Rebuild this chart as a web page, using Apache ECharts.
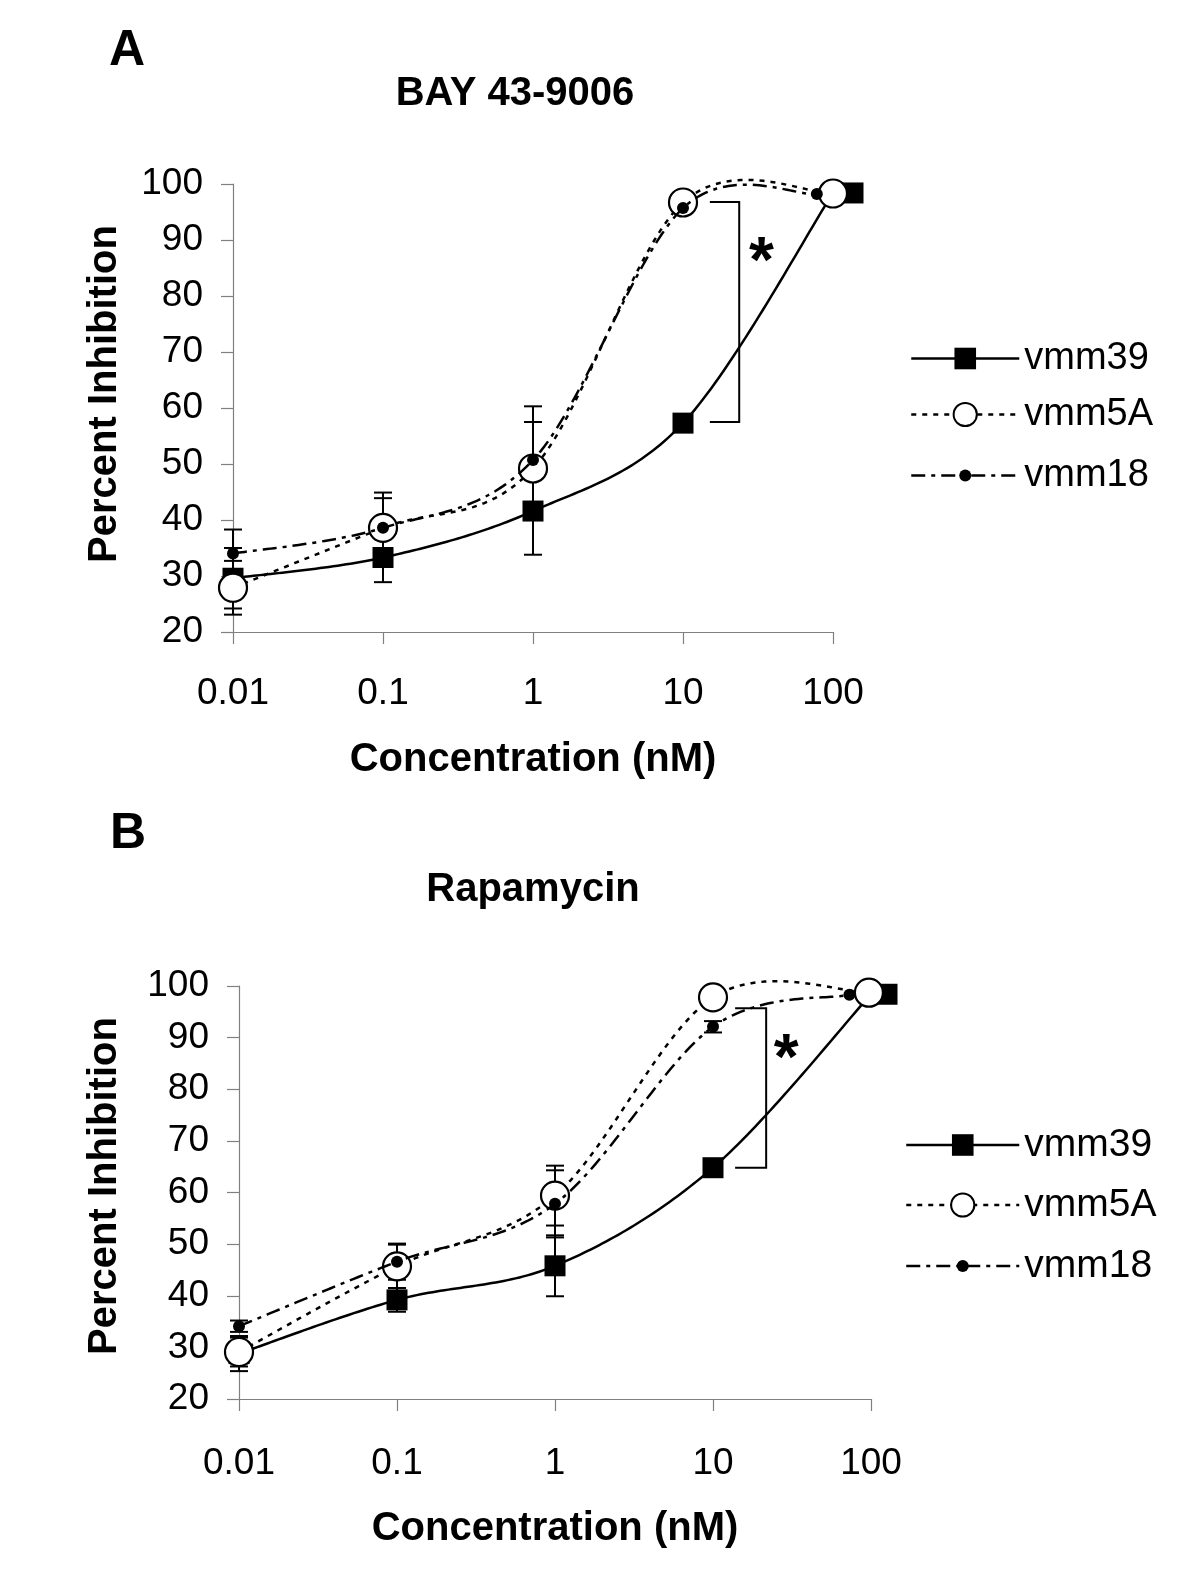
<!DOCTYPE html>
<html>
<head>
<meta charset="utf-8">
<script src="https://cdn.jsdelivr.net/npm/echarts@6/dist/echarts.min.js"></script>
<style>
html,body{margin:0;padding:0;background:#fff;}
#chart{width:1200px;height:1593px;}
</style>
</head>
<body>
<div id="chart"></div>
<script>
// ---------- DATA ----------
const seriesNames = ['vmm39', 'vmm5A', 'vmm18'];
const xTickLabels = ['0.01', '0.1', '1', '10', '100'];
const concentrations = [0.01, 0.1, 1, 10, 100];

// Panel A: BAY 43-9006
const titleA = 'BAY 43-9006';
const xA_vmm39 = [0.01, 0.1, 1, 10, 100];
const xA_vmm5A = [0.01, 0.1, 1, 10, 100];
const xA_vmm18 = [0.01, 0.1, 1, 10, 78];
const yA_vmm39 = [29.6, 33.3, 41.6, 57.3, 98.4];
const yA_vmm5A = [27.9, 38.6, 49.2, 96.7, 98.3];
const yA_vmm18 = [34.0, 38.6, 50.7, 95.7, 98.2];
const errA_vmm39 = [5.4, 4.4, 7.8, 0, 0];
const errA_vmm5A = [4.8, 6.3, 8.3, 0, 0];
const errA_vmm18 = [4.3, 5.3, 9.6, 0, 0];
// significance bracket: [xLeft, xRight, yTop, yBottom, xStar, yStar]
const bracketA = [15.1, 23.7, 96.8, 57.5, 33.4, 85.7];

// Panel B: Rapamycin
const titleB = 'Rapamycin';
const xB_vmm39 = [0.01, 0.1, 1, 10, 100];
const xB_vmm5A = [0.01, 0.1, 1, 10, 97];
const xB_vmm18 = [0.01, 0.1, 1, 10, 73];
const yB_vmm39 = [28.8, 39.2, 45.8, 64.8, 98.4];
const yB_vmm5A = [29.1, 45.7, 59.4, 97.8, 98.7];
const yB_vmm18 = [34.1, 46.6, 57.8, 92.1, 98.3];
const errB_vmm39 = [3.4, 2.3, 5.9, 0, 0];
const errB_vmm5A = [2.8, 4.2, 5.8, 0, 0];
const errB_vmm18 = [1.1, 3.5, 6.5, 1.1, 0];
const bracketB = [13.8, 21.7, 95.7, 64.8, 29.1, 85.4];

// ---------- STYLE / HELPERS ----------
const FONT = '"Liberation Sans", Arial, sans-serif';
const zip = (xs, ys) => xs.map((x, i) => [x, ys[i]]);
const errData = (xs, ys, es) => xs.map((x, i) => [x, ys[i] - es[i], ys[i] + es[i], es[i]]).filter(d => d[3] > 0);

const styles = {
  vmm39: { symbol: 'rect', symbolSize: 21, itemStyle: { color: '#000' },
           dash: null, legendType: 'solid', z: 3, legendH: 27 },
  vmm5A: { symbol: 'circle', symbolSize: 28, itemStyle: { color: '#fff', borderColor: '#000', borderWidth: 2.2 },
           dash: [5, 6], legendType: [5, 6], z: 4, legendH: 29 },
  vmm18: { symbol: 'circle', symbolSize: 12, itemStyle: { color: '#000' },
           dash: [14, 6, 4, 6], legendType: [14, 6, 4, 6], z: 5, legendH: 15 }
};
// pixel nudge of the last (100 nM) marker, as in the original figure
const lastMarkerNudge = { A: { vmm39: 20 }, B: { vmm39: 16 } };

function markerSeries(name, gridIdx, panel, xs, ys) {
  const s = styles[name];
  const nudge = lastMarkerNudge[panel][name] || 0;
  const data = zip(xs, ys).map((p, i) =>
    (i === xs.length - 1 && nudge) ? { value: p, symbolOffset: [nudge, 0] } : p);
  return {
    type: 'line', name: name, xAxisIndex: gridIdx, yAxisIndex: gridIdx,
    data: data, clip: false,
    symbol: s.symbol, symbolSize: s.symbolSize, showSymbol: true,
    itemStyle: s.itemStyle, lineStyle: { color: '#000', width: 0, opacity: 0, type: s.legendType },
    z: s.z, emphasis: { disabled: true }, animation: false
  };
}

// Smooth curve (cardinal / Catmull-Rom style, as in the spreadsheet original)
function curveSeries(name, gridIdx, xs, ys) {
  const s = styles[name];
  return {
    type: 'custom', xAxisIndex: gridIdx, yAxisIndex: gridIdx, z: s.z, clip: false,
    silent: true, animation: false, data: [[xs[0], ys[0]]],
    renderItem: function (params, api) {
      const P = xs.map((x, i) => api.coord([x, ys[i]]));
      const n = P.length, pts = [P[0]];
      for (let i = 0; i < n - 1; i++) {
        const p0 = P[Math.max(i - 1, 0)], p1 = P[i], p2 = P[i + 1], p3 = P[Math.min(i + 2, n - 1)];
        const c1 = [p1[0] + (p2[0] - p0[0]) / 6, p1[1] + (p2[1] - p0[1]) / 6];
        const c2 = [p2[0] - (p3[0] - p1[0]) / 6, p2[1] - (p3[1] - p1[1]) / 6];
        const N = 40;
        for (let k = 1; k <= N; k++) {
          const t = k / N, u = 1 - t;
          pts.push([
            u * u * u * p1[0] + 3 * u * u * t * c1[0] + 3 * u * t * t * c2[0] + t * t * t * p2[0],
            u * u * u * p1[1] + 3 * u * u * t * c1[1] + 3 * u * t * t * c2[1] + t * t * t * p2[1]
          ]);
        }
      }
      const style = { stroke: '#000', lineWidth: 2.5, fill: null };
      if (s.dash) style.lineDash = s.dash;
      return { type: 'polyline', shape: { points: pts }, style: style };
    }
  };
}

function errSeries(gridIdx, xs, ys, es) {
  return {
    type: 'custom', xAxisIndex: gridIdx, yAxisIndex: gridIdx, z: 2, clip: false,
    data: errData(xs, ys, es), animation: false, silent: true,
    renderItem: function (params, api) {
      const x = api.value(0);
      const p1 = api.coord([x, api.value(1)]);
      const p2 = api.coord([x, api.value(2)]);
      const w = 9, st = { stroke: '#000', lineWidth: 2 };
      return { type: 'group', children: [
        { type: 'line', shape: { x1: p1[0], y1: p1[1], x2: p2[0], y2: p2[1] }, style: st },
        { type: 'line', shape: { x1: p1[0] - w, y1: p1[1], x2: p1[0] + w, y2: p1[1] }, style: st },
        { type: 'line', shape: { x1: p2[0] - w, y1: p2[1], x2: p2[0] + w, y2: p2[1] }, style: st }
      ]};
    }
  };
}

function bracketSeries(gridIdx, b) {
  return {
    type: 'custom', xAxisIndex: gridIdx, yAxisIndex: gridIdx, z: 6, clip: false,
    data: [b], animation: false, silent: true,
    renderItem: function (params, api) {
      const a = api.coord([api.value(0), api.value(2)]);
      const c = api.coord([api.value(1), api.value(2)]);
      const d = api.coord([api.value(1), api.value(3)]);
      const e = api.coord([api.value(0), api.value(3)]);
      const s = api.coord([api.value(4), api.value(5)]);
      return { type: 'group', children: [
        { type: 'polyline', shape: { points: [a, c, d, e] }, style: { stroke: '#000', lineWidth: 2, fill: null } },
        { type: 'text', x: s[0], y: s[1], style: { text: '*', fill: '#000',
          font: 'bold 64px ' + FONT, align: 'center', verticalAlign: 'middle',
          textAlign: 'center', textVerticalAlign: 'middle' } }
      ]};
    }
  };
}

const axisGray = '#808080';
function xAxisCfg(gridIdx, margin, nameGap) {
  return {
    type: 'log', logBase: 10, min: 0.01, max: 100, gridIndex: gridIdx,
    name: 'Concentration (nM)', nameLocation: 'middle', nameGap: nameGap,
    nameTextStyle: { fontFamily: FONT, fontWeight: 'bold', fontSize: 40, color: '#000' },
    axisLine: { show: true, lineStyle: { color: axisGray, width: 1.2 } },
    axisTick: { show: true, inside: false, length: 12, lineStyle: { color: axisGray, width: 1.2 } },
    minorTick: { show: false }, splitLine: { show: false },
    axisLabel: { fontFamily: FONT, fontSize: 37, color: '#000', margin: margin,
      formatter: v => xTickLabels[Math.round(Math.log10(v)) + 2] }
  };
}
function yAxisCfg(gridIdx, nameGap, pad) {
  return {
    type: 'value', min: 20, max: 100, interval: 10, gridIndex: gridIdx,
    name: 'Percent Inhibition', nameLocation: 'middle', nameGap: nameGap, nameRotate: 90,
    nameTextStyle: { fontFamily: FONT, fontWeight: 'bold', fontSize: 40, color: '#000', padding: pad },
    axisLine: { show: true, lineStyle: { color: axisGray, width: 1.2 } },
    axisTick: { show: true, inside: false, length: 12, lineStyle: { color: axisGray, width: 1.2 } },
    splitLine: { show: false },
    axisLabel: { fontFamily: FONT, fontSize: 37, color: '#000', margin: 30 }
  };
}

function legendRow(name, left, centerY, width, fontSize) {
  const s = styles[name];
  const h = s.legendH;
  return {
    data: [name], orient: 'vertical', left: left, top: centerY - Math.max(h, 27) / 2,
    itemWidth: width, itemHeight: h, padding: 0, selectedMode: false,
    lineStyle: { color: '#000', width: 2.5, opacity: 1, type: s.legendType },
    textStyle: { fontFamily: FONT, fontSize: fontSize, color: '#000' }
  };
}

const legendRowsA = [353, 410, 470];
const legendRowsB = [1139, 1200, 1260];

const textEl = (x, y, text, size) => ({
  type: 'text', x: x, y: y, style: { text: text, font: 'bold ' + size + 'px ' + FONT, fill: '#000',
    textAlign: 'center', textVerticalAlign: 'middle', align: 'center', verticalAlign: 'middle' } });

const option = {
  backgroundColor: '#fff',
  animation: false,
  grid: [
    { left: 233, top: 184, width: 600, height: 448 },
    { left: 239, top: 986, width: 632, height: 413 }
  ],
  xAxis: [xAxisCfg(0, 43, 108), xAxisCfg(1, 46, 110)],
  yAxis: [yAxisCfg(0, 108, [0, 0, 0, 28]), yAxisCfg(1, 114, [0, 0, 0, 13])],
  legend: [
    legendRow('vmm39', 910, legendRowsA[0], 108, 38),
    legendRow('vmm5A', 910, legendRowsA[1], 108, 38),
    legendRow('vmm18', 910, legendRowsA[2], 108, 38),
    legendRow('vmm39', 905, legendRowsB[0], 113, 39),
    legendRow('vmm5A', 905, legendRowsB[1], 113, 39),
    legendRow('vmm18', 905, legendRowsB[2], 113, 39)
  ],
  graphic: [
    textEl(127, 51, 'A', 50),
    textEl(515, 94, titleA, 40),
    textEl(128, 834, 'B', 50),
    textEl(533, 890, titleB, 40)
  ],
  series: [
    errSeries(0, xA_vmm39, yA_vmm39, errA_vmm39),
    errSeries(0, xA_vmm5A, yA_vmm5A, errA_vmm5A),
    errSeries(0, xA_vmm18, yA_vmm18, errA_vmm18),
    curveSeries('vmm39', 0, xA_vmm39, yA_vmm39),
    markerSeries('vmm39', 0, 'A', xA_vmm39, yA_vmm39),
    curveSeries('vmm5A', 0, xA_vmm5A, yA_vmm5A),
    markerSeries('vmm5A', 0, 'A', xA_vmm5A, yA_vmm5A),
    curveSeries('vmm18', 0, xA_vmm18, yA_vmm18),
    markerSeries('vmm18', 0, 'A', xA_vmm18, yA_vmm18),
    bracketSeries(0, bracketA),
    errSeries(1, xB_vmm39, yB_vmm39, errB_vmm39),
    errSeries(1, xB_vmm5A, yB_vmm5A, errB_vmm5A),
    errSeries(1, xB_vmm18, yB_vmm18, errB_vmm18),
    curveSeries('vmm39', 1, xB_vmm39, yB_vmm39),
    markerSeries('vmm39', 1, 'B', xB_vmm39, yB_vmm39),
    curveSeries('vmm5A', 1, xB_vmm5A, yB_vmm5A),
    markerSeries('vmm5A', 1, 'B', xB_vmm5A, yB_vmm5A),
    curveSeries('vmm18', 1, xB_vmm18, yB_vmm18),
    markerSeries('vmm18', 1, 'B', xB_vmm18, yB_vmm18),
    bracketSeries(1, bracketB)
  ]
};

const chart = echarts.init(document.getElementById('chart'), null, { renderer: 'canvas' });
chart.setOption(option);
</script>
</body>
</html>
